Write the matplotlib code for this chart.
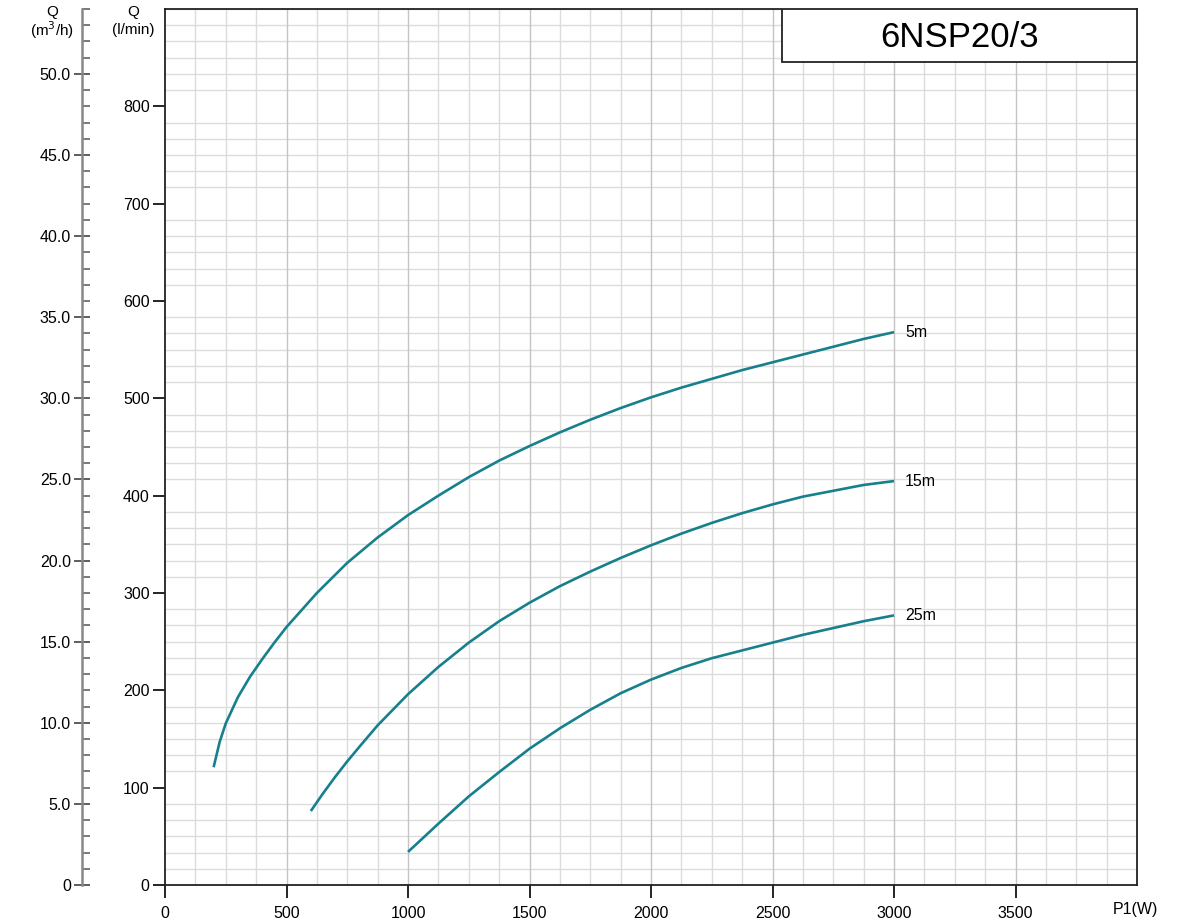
import numpy as np
import matplotlib.pyplot as plt
from matplotlib.ticker import MultipleLocator, FixedLocator, FuncFormatter
from matplotlib.patches import Rectangle

plt.rcParams['font.family'] = ['Liberation Sans', 'DejaVu Sans']

# Данi кривих: потужнiсть P1 (W) та подача Q (l/min)
p_5m = [200, 225, 250, 300, 350, 400, 450, 500, 625, 750, 875, 1000, 1125, 1250, 1375, 1500,
        1625, 1750, 1875, 2000, 2125, 2250, 2375, 2500, 2625, 2750, 2875, 3000]
q_5m = [121, 147, 166, 193, 214, 232, 249, 265, 300, 331, 357, 380, 400, 419, 436, 451,
        465, 478, 490, 501, 511, 520, 529, 537, 545, 553, 561, 568]

p_15m = [600, 650, 700, 750, 800, 875, 1000, 1125, 1250, 1375, 1500, 1625, 1750, 1875, 2000,
         2125, 2250, 2375, 2500, 2625, 2750, 2875, 3000]
q_15m = [76, 94, 111, 127, 142, 164, 196, 224, 249, 271, 290, 307, 322, 336, 349,
         361, 372, 382, 391, 399, 405, 411, 415]

p_25m = [1000, 1125, 1250, 1375, 1500, 1625, 1750, 1875, 2000, 2125, 2250, 2375, 2500,
         2625, 2750, 2875, 3000]
q_25m = [34, 63, 91, 116, 140, 161, 180, 197, 211, 223, 233, 241, 249, 257, 264, 271, 277]

curve_labels = ['5m', '15m', '25m']
x_ticks = [0, 500, 1000, 1500, 2000, 2500, 3000, 3500]
y_ticks = [0, 100, 200, 300, 400, 500, 600, 700, 800]
m3h_ticks = [0, 5, 10, 15, 20, 25, 30, 35, 40, 45, 50]
model = '6NSP20/3'

teal = '#17808d'

fig = plt.figure(figsize=(11.85, 9.22), dpi=100)
ax = fig.add_axes([165 / 1185, 37 / 922, 972 / 1185, 876 / 922])
ax.set_xlim(0, 4000)
ax.set_ylim(0, 900)

# сiтка
ax.xaxis.set_minor_locator(MultipleLocator(125))
ax.yaxis.set_minor_locator(MultipleLocator(100 / 6))
ax.grid(which='minor', color='#dcdcdc', linewidth=1.0)
for xv in range(500, 4000, 500):
    ax.axvline(xv, color='#c4c4c4', linewidth=1.0, zorder=0.6)
ax.set_axisbelow(True)
ax.tick_params(which='minor', length=0)

ax.set_xticks(x_ticks)
ax.set_yticks(y_ticks)
ax.tick_params(axis='y', which='major', direction='out', length=9, width=1.2, labelsize=11.5, pad=2)
ax.tick_params(axis='x', which='major', direction='out', length=9, width=1.2, labelsize=11.5, pad=6)
for s in ax.spines.values():
    s.set_linewidth(1.3)
    s.set_color('#222222')

# кривi
for p, q, lab in zip([p_5m, p_15m, p_25m], [q_5m, q_15m, q_25m], curve_labels):
    ax.plot(p, q, color=teal, linewidth=1.9, solid_capstyle='butt', zorder=3)
    ax.text(p[-1] + 45, q[-1], lab, ha='left', va='center', fontsize=11.5)

# друга вiсь m3/h
sec = ax.secondary_yaxis((82 - 165) / 972, functions=(lambda q: q * 0.06, lambda m: m / 0.06))
sec.yaxis.set_major_locator(FixedLocator(m3h_ticks))
sec.yaxis.set_minor_locator(MultipleLocator(1))
sec.yaxis.set_major_formatter(FuncFormatter(lambda v, pos: '0' if v == 0 else f'{v:.1f}'))
sec.tick_params(which='major', direction='inout', length=12, width=1.1, labelsize=11.5, pad=2, color='#333333')
sec.tick_params(which='minor', direction='in', length=6, width=1.1, color='#555555')
sec.spines['left'].set_color('#888888')
sec.spines['left'].set_linewidth(1.8)

# заголовки осей
fig.text(52 / 1185, 1 - 12 / 922, 'Q', ha='center', va='center', fontsize=11)
fig.text(52 / 1185, 1 - 30 / 922, '(m$^3$/h)', ha='center', va='center', fontsize=11)
fig.text(133 / 1185, 1 - 12 / 922, 'Q', ha='center', va='center', fontsize=11)
fig.text(133 / 1185, 1 - 30 / 922, '(l/min)', ha='center', va='center', fontsize=11)
ax.text(0.998, -0.028, 'P1(W)', transform=ax.transAxes, ha='center', va='center', fontsize=11.5)

# рамка з моделлю
ax.add_patch(Rectangle((0.6348, 0.9395), 0.3652, 0.0605, transform=ax.transAxes,
                       facecolor='white', edgecolor='#222222', linewidth=1.3, zorder=4))
ax.text(0.8174, 0.968, model, transform=ax.transAxes, ha='center', va='center',
        fontsize=25, zorder=5)

fig.savefig('out.png', dpi=100)
